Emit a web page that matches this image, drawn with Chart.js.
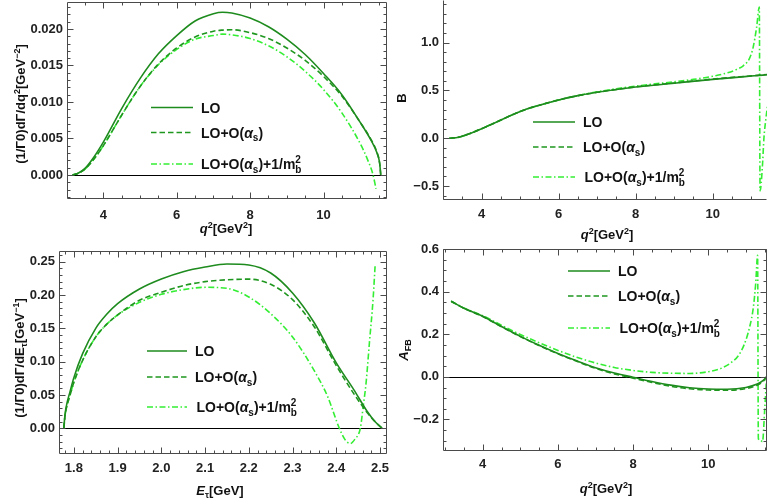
<!DOCTYPE html>
<html>
<head>
<meta charset="utf-8">
<script src="https://cdn.jsdelivr.net/npm/chart.js@4.4.1/dist/chart.umd.min.js"></script>
<style>
  html, body { margin: 0; padding: 0; background: #fff; }
  #wrap { position: relative; width: 767px; height: 503px; overflow: hidden; }
  #wrap canvas { position: absolute; left: 0; top: 0; }
</style>
</head>
<body>
<div id="wrap">
  <canvas id="c1" width="767" height="503"></canvas>
  <canvas id="c2" width="767" height="503"></canvas>
  <canvas id="c3" width="767" height="503"></canvas>
  <canvas id="c4" width="767" height="503"></canvas>
</div>
<script>
// top left: (1/G0) dG/dq^2
const dqQ2 = [3.16, 3.3, 3.5, 3.75, 4, 4.5, 5, 5.5, 6, 6.5, 7, 7.25, 7.5, 8, 8.5, 9, 9.5, 10, 10.5, 11, 11.3, 11.45, 11.53, 11.56];
const dqLO = [0, 0.0002, 0.0009, 0.0025, 0.0045, 0.0091, 0.0132, 0.0166, 0.0191, 0.0211, 0.0221, 0.0223, 0.0222, 0.0215, 0.0203, 0.0186, 0.0165, 0.0139, 0.0110, 0.0072, 0.0047, 0.0031, 0.0016, 0];
const dqNLO = [0, 0.0002, 0.0008, 0.0022, 0.0040, 0.0082, 0.0121, 0.0152, 0.0174, 0.0189, 0.0197, 0.01985, 0.0199, 0.0195, 0.0187, 0.0174, 0.0157, 0.0135, 0.0108, 0.0072, 0.0048, 0.0032, 0.0016, 0];
const dqQ2m = [3.16, 3.3, 3.5, 3.75, 4, 4.5, 5, 5.5, 6, 6.5, 7, 7.25, 7.5, 8, 8.5, 9, 9.5, 10, 10.5, 11, 11.2, 11.35, 11.43];
const dqNLOm = [0, 0.0002, 0.0008, 0.0022, 0.0040, 0.0082, 0.0121, 0.0151, 0.0172, 0.0186, 0.0191, 0.0193, 0.0192, 0.0187, 0.0177, 0.0162, 0.0142, 0.0117, 0.0085, 0.0043, 0.0021, 0.0000, -0.0019];

// top right: B
const bQ2 = [3.16, 3.4, 3.7, 4, 4.5, 5, 5.5, 6, 6.5, 7, 7.5, 8, 9, 10, 11, 11.45];
const bLO = [0, 0.01, 0.05, 0.10, 0.19, 0.28, 0.345, 0.40, 0.445, 0.48, 0.51, 0.535, 0.575, 0.615, 0.650, 0.665];
const bNLO = [0, 0.01, 0.05, 0.10, 0.19, 0.28, 0.345, 0.40, 0.445, 0.48, 0.51, 0.537, 0.578, 0.618, 0.652, 0.667];
const bQ2m = [3.16, 3.4, 3.7, 4, 4.5, 5, 5.5, 6, 6.5, 7, 7.5, 8, 8.5, 9, 9.5, 10, 10.3, 10.6, 10.8, 10.95, 11.05, 11.14, 11.21, 11.23, 11.29, 11.33, 11.38, 11.42];
const bNLOm = [0, 0.01, 0.05, 0.10, 0.19, 0.28, 0.345, 0.40, 0.447, 0.485, 0.517, 0.545, 0.568, 0.59, 0.615, 0.648, 0.675, 0.715, 0.76, 0.83, 0.95, 1.16, 1.37, -0.55, -0.30, 0.0, 0.2, 0.33];

// bottom left: (1/G0) dG/dE_tau
const eTau = [1.777, 1.780, 1.785, 1.79, 1.80, 1.82, 1.85, 1.875, 1.9, 1.95, 2.0, 2.05, 2.1, 2.15, 2.2, 2.25, 2.3, 2.35, 2.4, 2.44, 2.47, 2.49, 2.505];
const eLO = [0, 0.022, 0.040, 0.052, 0.076, 0.112, 0.150, 0.171, 0.187, 0.209, 0.224, 0.235, 0.242, 0.2465, 0.245, 0.233, 0.203, 0.158, 0.098, 0.058, 0.026, 0.009, 0];
const eNLO = [0, 0.020, 0.036, 0.047, 0.069, 0.102, 0.137, 0.156, 0.170, 0.192, 0.204, 0.214, 0.220, 0.2228, 0.2238, 0.216, 0.193, 0.152, 0.094, 0.052, 0.024, 0.009, 0];
const eTaum = [1.777, 1.780, 1.785, 1.79, 1.80, 1.82, 1.85, 1.875, 1.9, 1.95, 2.0, 2.05, 2.1, 2.15, 2.2, 2.25, 2.3, 2.35, 2.38, 2.407, 2.42, 2.432, 2.443, 2.455, 2.462, 2.468, 2.476, 2.484, 2.489];
const eNLOm = [0, 0.020, 0.036, 0.047, 0.069, 0.102, 0.137, 0.156, 0.170, 0.189, 0.201, 0.208, 0.2115, 0.210, 0.197, 0.172, 0.137, 0.086, 0.048, 0, -0.017, -0.023, -0.016, 0, 0.035, 0.067, 0.13, 0.192, 0.246];

// bottom right: A_FB
const aQ2 = [3.16, 3.5, 4, 4.5, 5, 5.5, 6, 6.5, 7, 7.5, 8, 8.5, 9, 9.5, 10, 10.5, 11, 11.3, 11.45, 11.55];
const aLO = [0.355, 0.322, 0.284, 0.236, 0.190, 0.148, 0.110, 0.075, 0.043, 0.018, -0.002, -0.022, -0.039, -0.051, -0.057, -0.058, -0.050, -0.034, -0.018, 0.0];
const aNLO = [0.355, 0.322, 0.283, 0.235, 0.189, 0.147, 0.108, 0.073, 0.040, 0.014, -0.006, -0.026, -0.044, -0.056, -0.062, -0.063, -0.055, -0.039, -0.022, 0.0];
const aQ2m = [3.16, 3.5, 4, 4.5, 5, 5.5, 6, 6.5, 7, 7.5, 8, 8.5, 9, 9.5, 10, 10.3, 10.6, 10.8, 10.95, 11.1, 11.2, 11.26, 11.31, 11.33, 11.38, 11.44, 11.5, 11.55];
const aNLOm = [0.355, 0.323, 0.287, 0.242, 0.199, 0.160, 0.124, 0.092, 0.065, 0.044, 0.030, 0.021, 0.017, 0.016, 0.024, 0.037, 0.066, 0.10, 0.15, 0.235, 0.33, 0.44, 0.57, -0.29, -0.298, -0.304, -0.15, 0.0];

// tick labels
const q2Ticks = [4, 6, 8, 10];
const eTicks = [1.8, 1.9, 2.0, 2.1, 2.2, 2.3, 2.4, 2.5];
const dqTicks = [0, 0.005, 0.010, 0.015, 0.020];
const bTicks = [-0.5, 0, 0.5, 1.0];
const deTicks = [0, 0.05, 0.10, 0.15, 0.20, 0.25];
const afbTicks = [-0.2, 0, 0.2, 0.4, 0.6];

// text pieces (t = text, it = italic, sub/sup, over = superscript stacked on a subscript)
const LEGEND_RUNS = [
  [{t: 'LO'}],
  [{t: 'LO+O('}, {t: '\u03b1', it: true}, {t: 's', sub: true}, {t: ')'}],
  [{t: 'LO+O('}, {t: '\u03b1', it: true}, {t: 's', sub: true}, {t: ')+1/m'}, {t: 'b', sub: true, over: '2'}]
];
const Q2_TITLE = [{t: 'q', it: true}, {t: '2', sup: true}, {t: '[GeV'}, {t: '2', sup: true}, {t: ']'}];
const DQ_TITLE = [{t: '(1/\u03930)d\u0393/dq'}, {t: '2', sup: true}, {t: '[GeV'}, {t: '\u22122', sup: true}, {t: ']'}];
const B_TITLE = [{t: 'B'}];
const DE_TITLE = [{t: '(1/\u03930)d\u0393/dE'}, {t: '\u03c4', sub: true}, {t: '[GeV'}, {t: '\u22121', sup: true}, {t: ']'}];
const E_TITLE = [{t: 'E', it: true}, {t: '\u03c4', sub: true}, {t: '[GeV]'}];
const AFB_TITLE = [{t: 'A', it: true}, {t: 'FB', sub: true}];

const FONT = '"Liberation Sans", Arial, sans-serif';
const W = 767, H = 503, AXW = 50, AXH = 30;
const STYLES = [
  {color: '#1e8b1e', dash: []},
  {color: '#1f971f', dash: [5.5, 3]},
  {color: '#33ee33', dash: [6, 2.5, 1.5, 2.5]}
];

function pts(xs, ys) { return xs.map((x, i) => ({x: x, y: ys[i]})); }
function fmt(n) { return v => (v < 0 ? '\u2212' : '') + Math.abs(v).toFixed(n); }

// draws a row of text pieces, with sub/superscripts
function drawRuns(ctx, runs, x, y, size, align) {
  const parts = runs.map(r => {
    const s = (r.sub || r.sup) ? Math.round(size * 0.72) : size;
    const font = (r.it ? 'italic ' : '') + 'bold ' + s + 'px ' + FONT;
    ctx.font = font;
    let w = ctx.measureText(r.t).width;
    if (r.over) w = Math.max(w, ctx.measureText(r.over).width);
    return {r: r, font: font, w: w};
  });
  const total = parts.reduce((a, p) => a + p.w, 0);
  let cx = align === 'center' ? x - total / 2 : x;
  ctx.textAlign = 'left';
  ctx.textBaseline = 'alphabetic';
  parts.forEach(p => {
    ctx.font = p.font;
    const dy = p.r.sup ? -size * 0.4 : p.r.sub ? size * 0.25 : 0;
    ctx.fillText(p.r.t, cx, y + dy);
    if (p.r.over) ctx.fillText(p.r.over, cx, y - size * 0.42);
    cx += p.w;
  });
}

function steps(min, max, st) {
  const out = [];
  for (let k = Math.ceil(min / st - 1e-9); k * st <= max + 1e-9; k++) out.push(k * st);
  return out;
}

// Mathematica-like frame with inward ticks on every side, plus the zero line
const framePlugin = {
  id: 'frame',
  beforeDatasetsDraw(chart, args, o) {
    if (!o.zero) return;
    const {ctx, chartArea: a, scales: {y}} = chart;
    const py = Math.round(y.getPixelForValue(0)) + 0.5;
    ctx.save();
    ctx.strokeStyle = '#000';
    ctx.lineWidth = 1;
    ctx.beginPath(); ctx.moveTo(a.left, py); ctx.lineTo(a.right, py); ctx.stroke();
    ctx.restore();
  },
  afterDatasetsDraw(chart, args, o) {
    const {ctx, chartArea: a, scales: {x, y}} = chart;
    const L = Math.round(a.left) + 0.5, R = Math.round(a.right) - 0.5;
    const T = Math.round(a.top) + 0.5, B = Math.round(a.bottom) - 0.5;
    ctx.save();
    ctx.strokeStyle = '#4a4a4a';
    ctx.lineWidth = 1;
    ctx.beginPath();
    ctx.moveTo(L, T); ctx.lineTo(L, B); ctx.lineTo(R, B);
    if (!o.openRight) { ctx.moveTo(R, B); ctx.lineTo(R, T); }
    if (!o.openTop) { ctx.moveTo(L, T); ctx.lineTo(R, T); }
    const xTick = (v, len) => {
      const px = Math.round(x.getPixelForValue(v)) + 0.5;
      if (px < L || px > R) return;
      ctx.moveTo(px, B); ctx.lineTo(px, B - len);
      if (!o.openTop) { ctx.moveTo(px, T); ctx.lineTo(px, T + len); }
    };
    const yTick = (v, len) => {
      const py = Math.round(y.getPixelForValue(v)) + 0.5;
      if (py < T || py > B) return;
      ctx.moveTo(L, py); ctx.lineTo(L + len, py);
      if (!o.openRight) { ctx.moveTo(R, py); ctx.lineTo(R - len, py); }
    };
    steps(x.min, x.max, o.xMinor).forEach(v => xTick(v, 3));
    o.xMajor.forEach(v => xTick(v, 6));
    steps(y.min, y.max, o.yMinor).forEach(v => yTick(v, 3));
    o.yMajor.forEach(v => yTick(v, 6));
    ctx.stroke();
    ctx.restore();
  }
};

const legendPlugin = {
  id: 'legendBox',
  afterDraw(chart, args, o) {
    const ctx = chart.ctx;
    chart.data.datasets.forEach((ds, i) => {
      const y = o.ys[i];
      ctx.save();
      ctx.strokeStyle = ds.borderColor;
      ctx.lineWidth = ds.borderWidth;
      ctx.setLineDash(ds.borderDash);
      ctx.beginPath(); ctx.moveTo(o.x0, y); ctx.lineTo(o.x1, y); ctx.stroke();
      ctx.restore();
      ctx.save();
      ctx.fillStyle = '#111';
      drawRuns(ctx, LEGEND_RUNS[i], o.tx + (i === 2 ? o.dx3 : 0), y + 5, 14);
      ctx.restore();
    });
  }
};

const titlePlugin = {
  id: 'titles',
  afterDraw(chart, args, o) {
    const ctx = chart.ctx;
    ctx.save();
    ctx.fillStyle = '#111';
    drawRuns(ctx, o.x.runs, o.x.cx, o.x.cy + 5, 13, 'center');
    ctx.translate(o.y.cx, o.y.cy);
    ctx.rotate(-Math.PI / 2);
    drawRuns(ctx, o.y.runs, 0, 5, 13, 'center');
    ctx.restore();
  }
};

function makePanel(id, p) {
  const a = p.area;
  const tickFont = {family: FONT, size: 13, weight: 'bold'};
  new Chart(document.getElementById(id), {
    type: 'line',
    data: {
      datasets: p.series.map((s, i) => ({
        data: pts(s[0], s[1]),
        borderColor: STYLES[i].color,
        borderDash: STYLES[i].dash,
        borderWidth: 1.6,
        pointRadius: 0,
        fill: false,
        cubicInterpolationMode: 'monotone'
      }))
    },
    options: {
      responsive: false,
      animation: false,
      events: [],
      layout: {
        autoPadding: false,
        padding: {left: a[0] - AXW, top: a[1], right: W - a[2], bottom: H - a[3] - AXH}
      },
      scales: {
        x: {
          type: 'linear', min: p.xr[0], max: p.xr[1],
          grid: {display: false, drawTicks: false}, border: {display: false},
          afterBuildTicks: s => { s.ticks = p.xt.map(v => ({value: v})); },
          afterFit: s => { s.height = AXH; s.paddingLeft = 0; s.paddingRight = 0; },
          ticks: {callback: p.xf, font: tickFont, color: '#222', padding: p.xpad, maxRotation: 0, autoSkip: false}
        },
        y: {
          type: 'linear', min: p.yr[0], max: p.yr[1],
          grid: {display: false, drawTicks: false}, border: {display: false},
          afterBuildTicks: s => { s.ticks = p.yt.map(v => ({value: v})); },
          afterFit: s => { s.width = AXW; s.paddingTop = 0; s.paddingBottom = 0; },
          ticks: {callback: p.yf, font: tickFont, color: '#222', padding: 4, autoSkip: false}
        }
      },
      plugins: {
        legend: {display: false},
        tooltip: {enabled: false},
        frame: {zero: p.zero, openTop: p.openTop, openRight: p.openRight,
                xMajor: p.xt, yMajor: p.yt, xMinor: p.xm, yMinor: p.ym},
        legendBox: p.legend,
        titles: p.titles
      }
    },
    plugins: [framePlugin, legendPlugin, titlePlugin]
  });
}

makePanel('c1', {
  area: [67, 2, 387, 199],
  series: [[dqQ2, dqLO], [dqQ2, dqNLO], [dqQ2m, dqNLOm]],
  xr: [3.01, 11.73], yr: [-0.0033, 0.0237],
  xt: q2Ticks, yt: dqTicks, xm: 0.5, ym: 0.001,
  xf: fmt(0), yf: fmt(3), xpad: 9, zero: true,
  legend: {x0: 151, x1: 193, tx: 201, dx3: 0, ys: [107.5, 132.5, 164]},
  titles: {x: {runs: Q2_TITLE, cx: 226, cy: 228}, y: {runs: DQ_TITLE, cx: 20, cy: 104}}
});

makePanel('c2', {
  area: [443, 0, 767, 200],
  series: [[bQ2, bLO], [bQ2, bNLO], [bQ2m, bNLOm]],
  xr: [2.995, 11.41], yr: [-0.646, 1.445],
  xt: q2Ticks, yt: bTicks, xm: 0.5, ym: 0.1,
  xf: fmt(0), yf: fmt(1), xpad: 7, zero: false, openTop: true, openRight: true,
  legend: {x0: 533, x1: 575, tx: 583, dx3: 1.5, ys: [122, 147, 177]},
  titles: {x: {runs: Q2_TITLE, cx: 607, cy: 234}, y: {runs: B_TITLE, cx: 401, cy: 98}}
});

makePanel('c3', {
  area: [59, 251, 387, 454],
  series: [[eTau, eLO], [eTau, eNLO], [eTaum, eNLOm]],
  xr: [1.766, 2.516], yr: [-0.0386, 0.266],
  xt: eTicks, yt: deTicks, xm: 0.02, ym: 0.01,
  xf: fmt(1), yf: fmt(2), xpad: 7, zero: true,
  legend: {x0: 147, x1: 187, tx: 195, dx3: 1.5, ys: [351, 377, 407]},
  titles: {x: {runs: E_TITLE, cx: 220, cy: 490}, y: {runs: DE_TITLE, cx: 19, cy: 358}}
});

makePanel('c4', {
  area: [443, 249, 767, 451],
  series: [[aQ2, aLO], [aQ2, aNLO], [aQ2m, aNLOm]],
  xr: [2.944, 11.56], yr: [-0.348, 0.6],
  xt: q2Ticks, yt: afbTicks, xm: 0.5, ym: 0.05,
  xf: fmt(0), yf: fmt(1), xpad: 6, zero: true,
  legend: {x0: 568, x1: 610, tx: 618, dx3: 1.5, ys: [271, 296, 328]},
  titles: {x: {runs: Q2_TITLE, cx: 606, cy: 488}, y: {runs: AFB_TITLE, cx: 403, cy: 350}}
});
</script>
</body>
</html>
